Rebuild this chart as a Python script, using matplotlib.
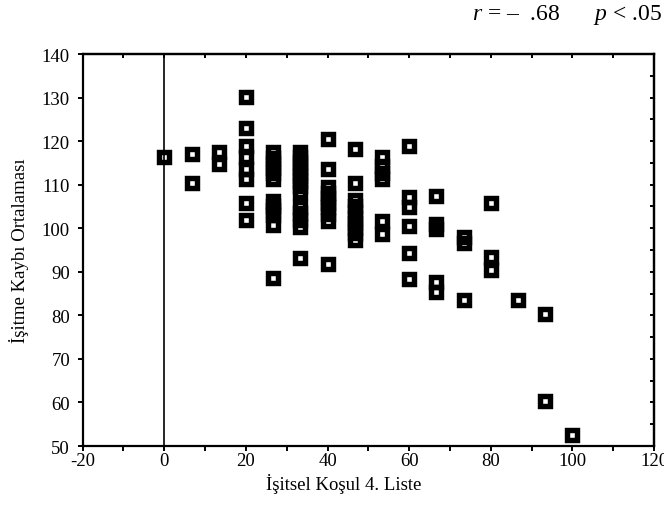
import matplotlib.pyplot as plt
from matplotlib.ticker import MultipleLocator

plt.rcParams["font.family"] = "Liberation Serif"
plt.rcParams["mathtext.fontset"] = "custom"
plt.rcParams["mathtext.rm"] = "Liberation Serif"
plt.rcParams["mathtext.it"] = "Liberation Serif:italic"
plt.rcParams["axes.unicode_minus"] = False

# İşitsel Koşul 4. Liste (x) and İşitme Kaybı Ortalaması (y), one line per x level
liste4 = (
    [0]
    + [6.67] * 2
    + [13.33] * 2
    + [20] * 8
    + [26.67] * 12
    + [33.33] * 14
    + [40] * 10
    + [46.67] * 10
    + [53.33] * 6
    + [60] * 6
    + [66.67] * 5
    + [73.33] * 3
    + [80] * 3
    + [86.67]
    + [93.33] * 2
    + [100]
)
isitme = (
    [116.4]
    + [117.1, 110.5]
    + [114.7, 117.5]
    + [130.2, 123.1, 111.4, 113.7, 116.3, 119.0, 101.8, 105.8]
    + [111.4, 112.6, 113.8, 115.0, 116.2, 117.4, 100.7, 103.0, 104.1, 105.2, 106.3, 88.6]
    + [108.4, 109.6, 110.8, 111.9, 113.0, 114.1, 115.2, 116.3, 117.4, 100.4, 102.0, 103.4, 104.8, 93.1]
    + [120.4, 113.6, 101.6, 103.2, 105.9, 107.0, 108.2, 109.4, 104.9, 91.7]
    + [118.1, 110.4, 97.4, 98.8, 100.0, 101.2, 102.4, 105.0, 103.8, 106.6]
    + [111.4, 112.8, 114.4, 116.3, 98.7, 101.7]
    + [118.9, 104.9, 107.2, 100.6, 94.3, 88.4]
    + [107.4, 99.8, 101.0, 85.3, 87.6]
    + [96.6, 97.9, 83.5]
    + [105.7, 90.4, 93.5]
    + [83.5]
    + [80.3, 60.3]
    + [52.5]
)

r_text = "$r$ = \u2013  .68      $p$ < .05"

fig = plt.figure(figsize=(6.64, 5.10), dpi=100)
ax = fig.add_axes([0.1245, 0.1235, 0.8605, 0.7685])

ax.axvline(0, color="black", lw=1.2, zorder=1)
ax.plot(liste4, isitme, ls="none", marker="s", ms=7.2, mew=3.9,
        mec="black", mfc="none", clip_on=False, zorder=3)

ax.set_xlim(-20, 120)
ax.set_ylim(50, 140)
ax.xaxis.set_major_locator(MultipleLocator(20))
ax.xaxis.set_minor_locator(MultipleLocator(10))
ax.yaxis.set_major_locator(MultipleLocator(10))

for side in ax.spines.values():
    side.set_linewidth(1.6)

ax.tick_params(axis="both", which="both", direction="out", length=3.6, width=1.4,
               labelsize=13.5, colors="black")
ax.tick_params(axis="x", pad=0.5)
ax.tick_params(axis="y", pad=5.5)

top = ax.secondary_xaxis("top")
top.xaxis.set_major_locator(MultipleLocator(10))
top.tick_params(direction="in", length=3, width=1.4, labeltop=False)
top.spines["top"].set_linewidth(1.6)

right = ax.secondary_yaxis("right")
right.yaxis.set_major_locator(MultipleLocator(5))
right.tick_params(direction="in", length=3, width=1.4, labelright=False)
right.spines["right"].set_linewidth(1.6)

ax.set_xlabel("İşitsel Koşul 4. Liste", fontsize=13.5, x=0.456, labelpad=3)
ax.set_ylabel("İşitme Kaybı Ortalaması", fontsize=13.5, labelpad=9)

fig.text(662 / 664, 1 - 15 / 510, r_text, ha="right", va="center", fontsize=17)

fig.savefig("out.png", dpi=100)
